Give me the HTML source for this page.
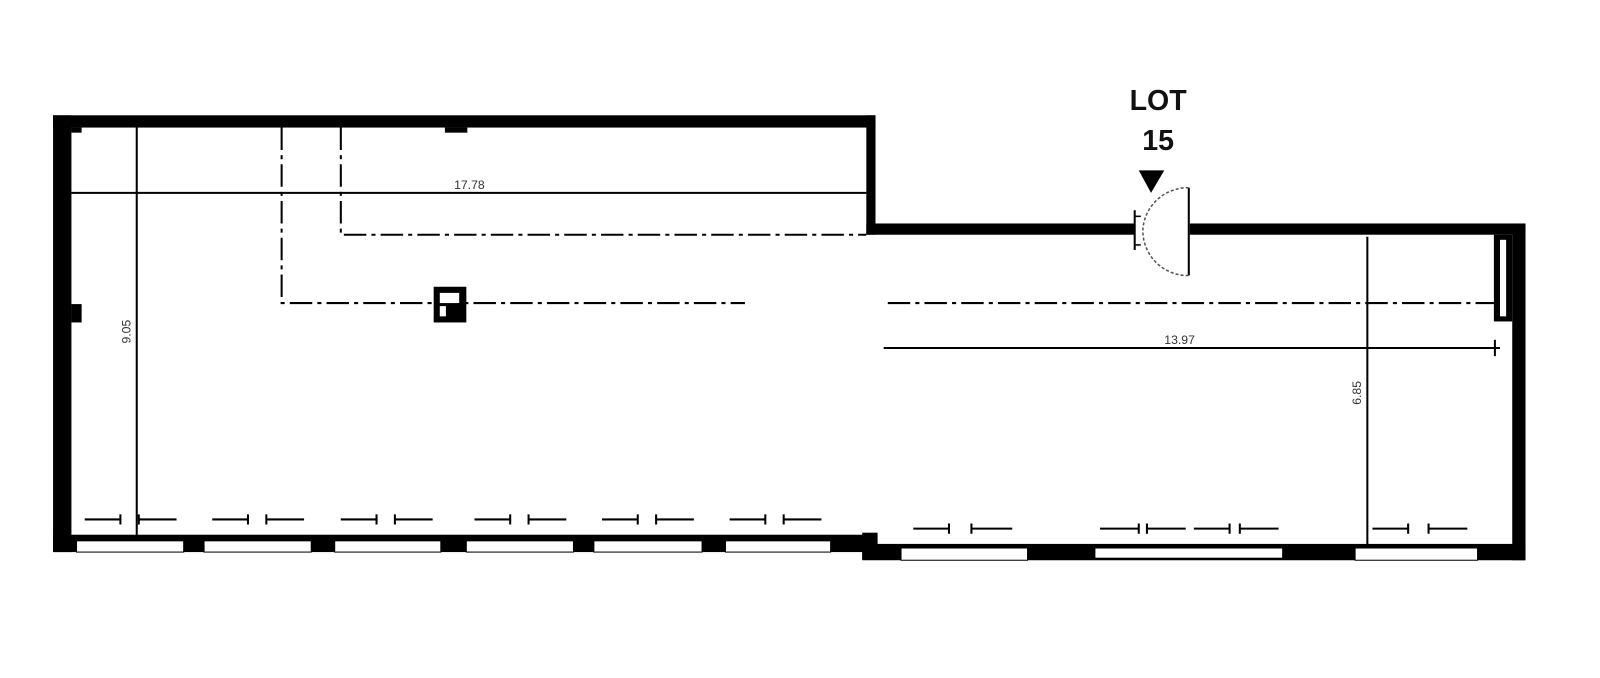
<!DOCTYPE html>
<html><head><style>body{margin:0;background:#fff}svg{display:block}</style></head><body>
<svg width="1600" height="678" viewBox="0 0 1568 664.4" preserveAspectRatio="none" xmlns="http://www.w3.org/2000/svg" font-family="Liberation Sans, sans-serif">
<rect width="1568" height="665" fill="#fff"/>
<!-- walls -->
<rect x="52" y="113" width="806" height="12" fill="#000"/>
<rect x="52" y="113" width="18" height="428" fill="#000"/>
<rect x="70" y="125" width="10" height="5" fill="#000"/>
<rect x="70" y="298" width="10" height="18" fill="#000"/>
<rect x="436" y="125" width="22" height="5" fill="#000"/>
<rect x="849" y="113" width="9" height="117" fill="#000"/>
<rect x="849" y="219" width="646" height="11" fill="#000"/>
<rect x="1482" y="219" width="13" height="330" fill="#000"/>
<rect x="1464" y="230" width="18" height="85" fill="#000"/>
<rect x="1470" y="235" width="6" height="75" fill="#fff"/>
<rect x="52" y="524" width="808" height="17" fill="#000"/>
<rect x="845" y="522" width="15" height="26" fill="#000"/>
<rect x="845" y="533" width="650" height="16" fill="#000"/>
<!-- windows -->
<g fill="#fff" stroke="#000" stroke-width="1">
<rect x="75" y="530" width="105" height="11"/><rect x="200" y="530" width="105" height="11"/>
<rect x="328" y="530" width="104" height="11"/><rect x="457" y="530" width="105" height="11"/>
<rect x="582" y="530" width="106" height="11"/><rect x="711" y="530" width="103" height="11"/>
<rect x="883" y="537" width="124" height="12"/><rect x="1073" y="537" width="184" height="10"/>
<rect x="1328" y="537" width="120" height="12"/>
</g>
<!-- door opening -->
<rect x="1112" y="215" width="54" height="19" fill="#fff"/>
<line x1="1112" y1="206" x2="1112" y2="245" stroke="#000" stroke-width="2"/>
<line x1="1112" y1="212" x2="1118" y2="212" stroke="#000" stroke-width="1.5"/>
<line x1="1112" y1="240" x2="1118" y2="240" stroke="#000" stroke-width="1.5"/>
<line x1="1165" y1="184" x2="1165" y2="270" stroke="#000" stroke-width="2"/>
<path d="M1165 184 A44 44 0 0 0 1120 225 A44 44 0 0 0 1165 270" fill="none" stroke="#555" stroke-width="1.5" stroke-dasharray="3 2"/>
<polygon points="1116,167 1141,167 1128,189" fill="#000"/>
<text x="1135" y="108" font-size="28" font-weight="bold" text-anchor="middle" fill="#111">LOT</text>
<text x="1135" y="147" font-size="28" font-weight="bold" text-anchor="middle" fill="#111">15</text>
<!-- dimension lines -->
<g stroke="#000" stroke-width="2" fill="none">
<line x1="134" y1="125" x2="134" y2="530"/>
<line x1="70" y1="189" x2="849" y2="189"/>
<line x1="866" y1="341" x2="1470" y2="341"/>
<line x1="1465" y1="333" x2="1465" y2="349"/>
<line x1="1340" y1="232" x2="1340" y2="534"/>
</g>
<g stroke="#000" stroke-width="2" fill="none" stroke-dasharray="22 5 4 5">
<path d="M276 125 V297 H730"/>
<path d="M870 297 H1470"/>
<path d="M334 125 V230 H849"/>
</g>
<rect x="425" y="281" width="32" height="35" fill="#000"/>
<rect x="431" y="287" width="19" height="10" fill="#fff"/>
<rect x="431" y="300" width="6" height="10" fill="#fff"/>
<text x="460" y="185" font-size="12" text-anchor="middle" fill="#333">17.78</text>
<text x="1156" y="337" font-size="12" text-anchor="middle" fill="#333">13.97</text>
<text transform="translate(128,325) rotate(-90)" font-size="12" text-anchor="middle" fill="#333">9.05</text>
<text transform="translate(1334,385) rotate(-90)" font-size="12" text-anchor="middle" fill="#333">6.85</text>
<!-- arrow markers -->
<g stroke="#000" stroke-width="2">
<path d="M83 509h35M118 504v10M136 504v10M136 509h37"/>
<path d="M208 509h35M243 504v10M261 504v10M261 509h37"/>
<path d="M334 509h35M369 504v10M387 504v10M387 509h37"/>
<path d="M465 509h35M500 504v10M518 504v10M518 509h37"/>
<path d="M590 509h35M625 504v10M643 504v10M643 509h37"/>
<path d="M715 509h35M750 504v10M768 504v10M768 509h37"/>
<path d="M895 518h35M930 513v10M952 513v10M952 518h40"/>
<path d="M1078 518h38M1116 513v10M1124 513v10M1124 518h38"/>
<path d="M1170 518h35M1205 513v10M1215 513v10M1215 518h38"/>
<path d="M1345 518h35M1380 513v10M1400 513v10M1400 518h38"/>
</g>
</svg>
</body></html>
